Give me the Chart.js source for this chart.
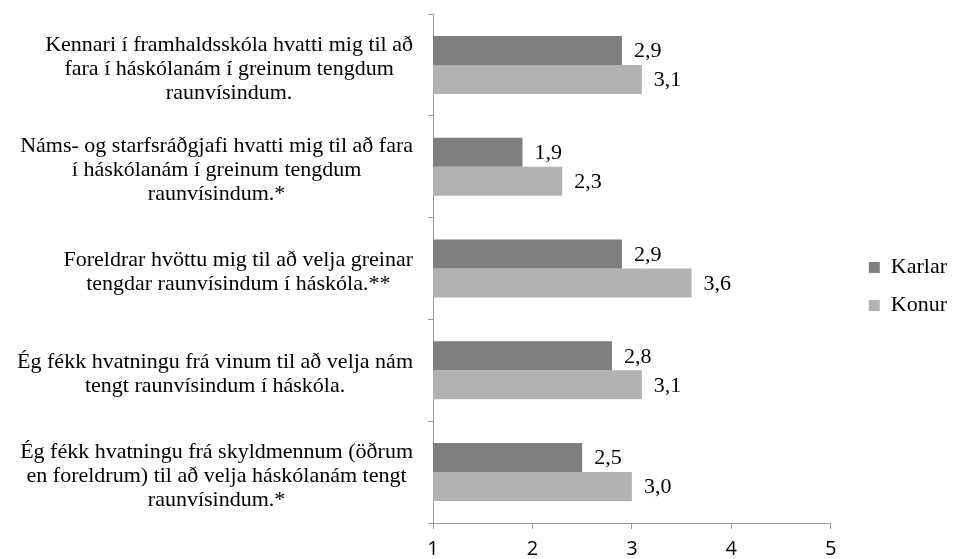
<!DOCTYPE html>
<html>
<head>
<meta charset="utf-8">
<script src="https://cdn.jsdelivr.net/npm/chart.js@4"></script>
<style>
  html, body { margin: 0; padding: 0; background: #fff; }
  #wrap { width: 957px; height: 559px; }
</style>
</head>
<body>
<div id="wrap"><canvas id="myChart" width="957" height="559"></canvas></div>
<script>
const categories = [
    ['Kennari í framhaldsskóla hvatti mig til að', 'fara í háskólanám í greinum tengdum', 'raunvísindum.'],
    ['Náms- og starfsráðgjafi hvatti mig til að fara', 'í háskólanám í greinum tengdum', 'raunvísindum.*'],
    ['Foreldrar hvöttu mig til að velja greinar', 'tengdar raunvísindum í háskóla.**'],
    ['Ég fékk hvatningu frá vinum til að velja nám', 'tengt raunvísindum í háskóla.'],
    ['Ég fékk hvatningu frá skyldmennum (öðrum', 'en foreldrum) til að velja háskólanám tengt', 'raunvísindum.*']
];
const karlar = [2.9, 1.9, 2.9, 2.8, 2.5];
const konur = [3.1, 2.3, 3.6, 3.1, 3.0];
const xTicks = [1, 2, 3, 4, 5];

const serif = '"Liberation Serif", "Times New Roman", serif';
const sans = '"Open Sans", "Liberation Sans", sans-serif';

// gildi til hægri við súlurnar
const valueLabels = {
    id: 'valueLabels',
    afterDatasetsDraw(chart) {
        const c = chart.ctx;
        c.save();
        c.font = '22px ' + serif;
        c.fillStyle = '#000';
        c.textAlign = 'left';
        c.textBaseline = 'middle';
        chart.data.datasets.forEach((ds, i) => {
            chart.getDatasetMeta(i).data.forEach((bar, j) => {
                c.fillText(ds.data[j].toFixed(1).replace('.', ','), bar.x + 12, bar.y + 1);
            });
        });
        c.restore();
    }
};

// flokkaheiti, hver kubbur miðjaður um sína breiðustu línu
const categoryLabels = {
    id: 'categoryLabels',
    afterDraw(chart) {
        const c = chart.ctx;
        const y = chart.scales.y;
        const right = 413;
        c.save();
        c.font = '22px ' + serif;
        c.fillStyle = '#000';
        c.textAlign = 'center';
        c.textBaseline = 'middle';
        categories.forEach((lines, i) => {
            const w = Math.max(...lines.map(l => c.measureText(l).width));
            const cx = right - w / 2;
            const cy = y.getPixelForValue(i) + 4;
            const lh = 24;
            lines.forEach((l, k) => {
                c.fillText(l, cx, cy + (k - (lines.length - 1) / 2) * lh);
            });
        });
        c.restore();
    }
};

// skýringin færð aðeins til hægri frá teiknisvæðinu
const legendShift = {
    id: 'legendShift',
    afterLayout(chart) {
        if (!chart.legend) return;
        chart.legend.left += 22;
        chart.legend.right += 22;
    }
};

const ctx = document.querySelector('#myChart').getContext('2d');

const myChart = new Chart(ctx, {
    type: 'bar',
    data: {
        labels: categories,
        datasets: [{
            label: 'Karlar',
            data: karlar,
            backgroundColor: '#7f7f7f'
        }, {
            label: 'Konur',
            data: konur,
            backgroundColor: '#b2b2b2'
        }]
    },
    options: {
        indexAxis: 'y',
        responsive: false,
        animation: false,
        layout: { padding: { top: 14, right: 22, left: 0, bottom: 0 } },
        datasets: {
            bar: { barPercentage: 1, categoryPercentage: 0.57 }
        },
        scales: {
            x: {
                min: 1,
                max: 5,
                afterBuildTicks: s => { s.ticks = xTicks.map(v => ({ value: v })); },
                afterFit: s => { s.height = 36; },
                grid: { drawOnChartArea: false, tickLength: 6, color: '#9a9a9a' },
                border: { color: '#9a9a9a' },
                ticks: { font: { family: sans, size: 20 }, color: '#000', padding: 8 }
            },
            y: {
                offset: true,
                afterFit: s => { s.width = 433; },
                grid: { drawOnChartArea: false, offset: true, tickLength: 5, color: '#9a9a9a' },
                border: { color: '#9a9a9a' },
                ticks: { display: false }
            }
        },
        plugins: {
            legend: {
                position: 'right',
                labels: {
                    boxWidth: 11,
                    boxHeight: 11,
                    padding: 16,
                    color: '#000',
                    font: { family: serif, size: 22 }
                }
            },
            tooltip: { enabled: false }
        }
    },
    plugins: [valueLabels, categoryLabels, legendShift]
});
</script>
</body>
</html>
